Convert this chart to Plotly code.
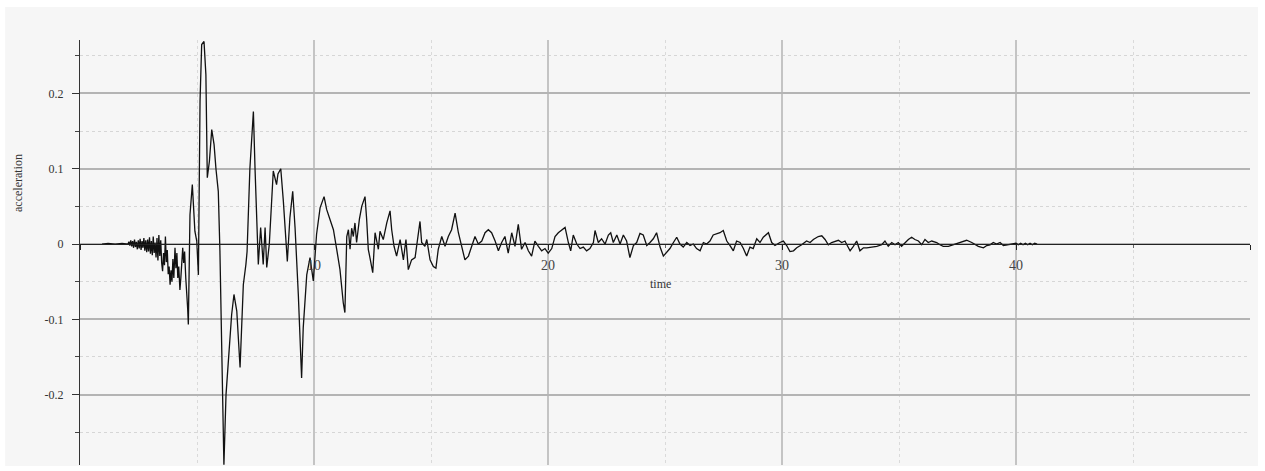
import plotly.graph_objects as go

# ---- data ----
time = [0.94, 1.2, 1.5, 1.8,
        2.05, 2.09, 2.13, 2.17, 2.21, 2.25, 2.29, 2.33, 2.37, 2.41, 2.45, 2.49, 2.53, 2.57, 2.61,
        2.65, 2.69, 2.73, 2.77, 2.81, 2.85, 2.89, 2.93, 2.97, 3.01, 3.05, 3.09, 3.13, 3.17, 3.21,
        3.25, 3.29, 3.33, 3.37, 3.41, 3.45, 3.49, 3.53, 3.57, 3.61, 3.65, 3.69, 3.73, 3.77, 3.81,
        3.85, 3.89, 3.93, 3.97, 4.01, 4.06, 4.10, 4.14, 4.18, 4.22, 4.27, 4.31, 4.35, 4.39, 4.43,
        4.47, 4.52, 4.56, 4.60, 4.63,
        4.70, 4.80, 4.91, 4.99, 5.06, 5.13,
        5.20, 5.30, 5.38, 5.44, 5.53, 5.63, 5.73, 5.81, 5.91, 5.98, 6.05, 6.13, 6.15, 6.24, 6.34,
        6.48, 6.58, 6.70, 6.84, 6.98, 7.09, 7.14, 7.26, 7.41, 7.48, 7.62, 7.72, 7.83, 7.91, 7.98,
        8.09, 8.19, 8.26, 8.40, 8.46, 8.58, 8.69, 8.86, 8.97, 9.09, 9.19, 9.33, 9.47, 9.54, 9.69,
        9.83, 9.97, 10.11, 10.26, 10.43, 10.54, 10.68, 10.83, 10.97, 11.11, 11.25, 11.32, 11.40,
        11.47, 11.54, 11.61, 11.68, 11.75, 11.82, 11.94, 12.04, 12.18, 12.25, 12.32, 12.39, 12.51,
        12.61, 12.75, 12.82, 12.96, 13.11, 13.25, 13.32, 13.42, 13.53, 13.68, 13.82, 13.93, 14.03,
        14.17, 14.32, 14.46, 14.53, 14.60, 14.74, 14.82, 14.96, 15.10, 15.21, 15.31, 15.46, 15.60,
        15.74, 15.88, 16.03, 16.17, 16.31, 16.45, 16.60, 16.74, 16.88, 17.02, 17.17, 17.31, 17.45,
        17.59, 17.74, 17.88, 18.02, 18.16, 18.30, 18.45, 18.59, 18.73, 18.87, 19.02, 19.16, 19.30,
        19.44, 19.59, 19.73, 19.87, 20.01, 20.16, 20.30, 20.44, 20.73, 20.87, 20.97, 21.08, 21.23,
        21.37, 21.51, 21.65, 21.79, 21.94, 22.01, 22.15, 22.29, 22.44, 22.58, 22.68, 22.79, 22.94,
        23.08, 23.22, 23.36, 23.50, 23.65, 23.79, 23.93, 24.07, 24.22, 24.36, 24.50, 24.64, 24.79,
        24.93, 25.07, 25.21, 25.36, 25.50, 25.64, 25.78, 25.93, 26.07, 26.21, 26.35, 26.50, 26.64,
        26.78, 26.92, 27.06, 27.21, 27.35, 27.49, 27.64, 27.78, 27.92, 28.06, 28.21, 28.35, 28.49,
        28.63, 28.77, 28.92, 29.06, 29.20, 29.42, 29.56, 29.70, 29.91, 30.06, 30.20, 30.34, 30.49,
        30.63, 30.84, 31.05, 31.20, 31.34, 31.55, 31.70, 31.84, 31.98, 32.12, 32.27, 32.41, 32.55,
        32.69, 32.77, 32.91, 33.05, 33.19, 33.33, 33.48, 33.62, 33.83, 34.05, 34.26, 34.40, 34.54,
        34.69, 34.83, 34.97, 35.11, 35.26, 35.40, 35.54, 35.68, 35.83, 35.97, 36.11, 36.25, 36.40,
        36.61, 36.75, 36.89, 37.11, 37.32, 37.54, 37.75, 37.89, 38.11, 38.25, 38.39, 38.61, 38.75,
        38.89, 39.03, 39.17, 39.32, 39.46, 39.60, 39.74, 40.00, 40.10, 40.20, 40.30, 40.40, 40.50,
        40.60, 40.70, 40.80, 40.90]

accel = [0.000, 0.001, 0.000, 0.001,
         0.000, 0.003, -0.002, 0.005, -0.003, 0.004, -0.005, 0.006, -0.004, 0.003, -0.007, 0.005,
         -0.006, 0.007, -0.008, 0.004, -0.005, 0.008, -0.009, 0.005, -0.011, 0.006, -0.010, 0.009,
         -0.013, 0.004, -0.015, 0.010, -0.012, 0.002, -0.018, 0.008, -0.022, 0.012, -0.016, 0.005,
         -0.025, -0.036, -0.012, -0.028, 0.010, -0.024, -0.008, -0.040, -0.030, -0.054, -0.035,
         -0.050, -0.020, -0.045, -0.005, -0.032, -0.012, -0.045, -0.030, -0.061, -0.045, -0.020,
         -0.005, -0.025, -0.010, -0.045, -0.060, -0.085, -0.107,
         0.039, 0.079, 0.017, 0.004, -0.041, 0.190, 0.265,
         0.269, 0.225, 0.088, 0.110, 0.152, 0.132, 0.100, 0.070, -0.010, -0.120, -0.230, -0.293,
         -0.200, -0.151, -0.094, -0.067, -0.089, -0.164, -0.054, -0.027, -0.010, 0.100, 0.176,
         0.100, -0.027, 0.022, -0.027, 0.022, -0.031, 0.000, 0.070, 0.097, 0.079, 0.093, 0.100,
         0.057, -0.023, 0.035, 0.070, 0.022, -0.067, -0.178, -0.111, -0.041, -0.018, -0.049, 0.013,
         0.048, 0.063, 0.046, 0.033, 0.019, -0.007, -0.034, -0.078, -0.091, 0.010, 0.019, -0.007,
         0.021, 0.010, 0.028, 0.002, 0.033, 0.050, 0.063, 0.033, -0.007, -0.018, -0.038, 0.015,
         -0.007, 0.017, 0.006, 0.028, 0.044, 0.019, -0.003, -0.016, 0.006, -0.021, 0.006, -0.034,
         -0.021, -0.018, 0.010, 0.030, 0.002, -0.003, 0.006, -0.021, -0.030, -0.032, -0.007, 0.010,
         -0.003, 0.010, 0.019, 0.041, 0.015, -0.003, -0.021, -0.016, -0.003, 0.010, 0.000, 0.004,
         0.015, 0.019, 0.015, 0.004, -0.009, 0.002, 0.010, -0.012, 0.015, -0.003, 0.026, -0.007,
         0.002, -0.009, -0.016, 0.004, -0.003, -0.009, -0.006, -0.012, -0.006, 0.010, 0.015, 0.022,
         0.002, -0.009, 0.012, 0.000, -0.006, -0.004, -0.009, -0.006, 0.002, 0.018, 0.002, 0.007,
         0.000, 0.012, 0.015, 0.002, 0.012, 0.000, 0.012, 0.004, -0.018, -0.002, 0.002, 0.014,
         0.012, -0.002, 0.002, 0.007, 0.015, -0.004, -0.016, -0.011, -0.006, 0.002, 0.009, 0.000,
         -0.004, 0.002, -0.002, 0.000, -0.006, -0.009, 0.002, 0.000, 0.004, 0.012, 0.014, 0.015,
         0.018, 0.004, -0.002, -0.009, 0.004, 0.002, -0.006, -0.016, -0.004, -0.006, 0.007, 0.002,
         0.009, 0.015, 0.002, -0.002, 0.002, 0.004, -0.002, -0.010, -0.009, -0.005, -0.001, 0.004,
         0.002, 0.006, 0.010, 0.011, 0.006, -0.001, 0.002, 0.004, 0.005, 0.002, 0.004, -0.001,
         -0.009, -0.003, 0.004, -0.009, -0.005, -0.005, -0.004, -0.003, -0.001, 0.004, -0.003,
         0.002, -0.001, 0.002, -0.003, 0.002, 0.006, 0.009, 0.006, 0.004, -0.001, 0.006, 0.002,
         0.004, 0.002, -0.001, -0.003, -0.003, -0.001, 0.002, 0.004, 0.005, 0.002, -0.001, -0.003,
         -0.005, -0.002, -0.001, 0.002, 0.000, 0.002, -0.002, -0.001, -0.001, 0.001, -0.001, 0.001,
         -0.001, 0.001, -0.001, 0.001, -0.001, 0.001, 0.000]

x_ticks = [0, 10, 20, 30, 40, 50]
x_tick_text = ["", "10", "20", "30", "40", ""]
y_ticks = [-0.2, -0.1, 0, 0.1, 0.2]
y_tick_text = ["-0.2", "-0.1", "0", "0.1", "0.2"]
x_range = [0, 50]
y_range = [-0.2935, 0.271]

FONT = "Liberation Serif"

fig = go.Figure()
fig.add_trace(go.Scatter(x=time, y=accel, mode="lines",
                         line=dict(color="#111111", width=1.3),
                         showlegend=False, hoverinfo="skip"))

zero_pos = (0 - y_range[0]) / (y_range[1] - y_range[0])

fig.update_layout(
    width=1265, height=471,
    margin=dict(l=80, r=15, t=40, b=6),
    paper_bgcolor="white",
    plot_bgcolor="#f6f6f6",
    font=dict(family=FONT, size=12, color="#333"),
    xaxis=dict(
        range=x_range, tickmode="array", tickvals=x_ticks, ticktext=x_tick_text,
        anchor="free", position=zero_pos,
        showline=True, linecolor="#222", linewidth=1,
        ticks="outside", ticklen=5, tickcolor="#222",
        ticklabelstandoff=3,
        showgrid=True, gridcolor="#c4c4c4", gridwidth=2,
        zeroline=False,
        tickfont=dict(family=FONT, size=14, color="#444"),
        minor=dict(tickmode="linear", tick0=0, dtick=5, showgrid=True,
                   gridcolor="#dadada", griddash="dot", gridwidth=1,
                   ticks="outside", ticklen=3, tickcolor="#666"),
    ),
    yaxis=dict(
        range=y_range, tickmode="array", tickvals=y_ticks, ticktext=y_tick_text,
        showline=True, linecolor="#333", linewidth=1,
        ticks="outside", ticklen=7, tickcolor="#333",
        ticklabelstandoff=6,
        showgrid=True, gridcolor="#b4b4b4", gridwidth=1.5,
        zeroline=False,
        tickfont=dict(family=FONT, size=12, color="#333"),
        minor=dict(tickmode="linear", tick0=0, dtick=0.05, showgrid=True,
                   gridcolor="#d6d6d6", griddash="3px,3px", gridwidth=1,
                   ticks="outside", ticklen=4, tickcolor="#444"),
    ),
    shapes=[dict(type="rect", xref="paper", yref="paper",
                 x0=-0.064, x1=1.0068, y0=-0.0024, y1=1.0776,
                 fillcolor="#f6f6f6", line=dict(width=0), layer="below")],
    annotations=[
        dict(text="acceleration", xref="paper", yref="paper", x=-0.053, y=0.6635,
             textangle=-90, showarrow=False, font=dict(family=FONT, size=12, color="#333"),
             xanchor="center", yanchor="middle"),
        dict(text="time", xref="paper", yref="paper", x=0.496, y=zero_pos - 0.093,
             showarrow=False, font=dict(family=FONT, size=12, color="#333"),
             xanchor="center", yanchor="middle"),
    ],
)

fig.write_html("out.html")
